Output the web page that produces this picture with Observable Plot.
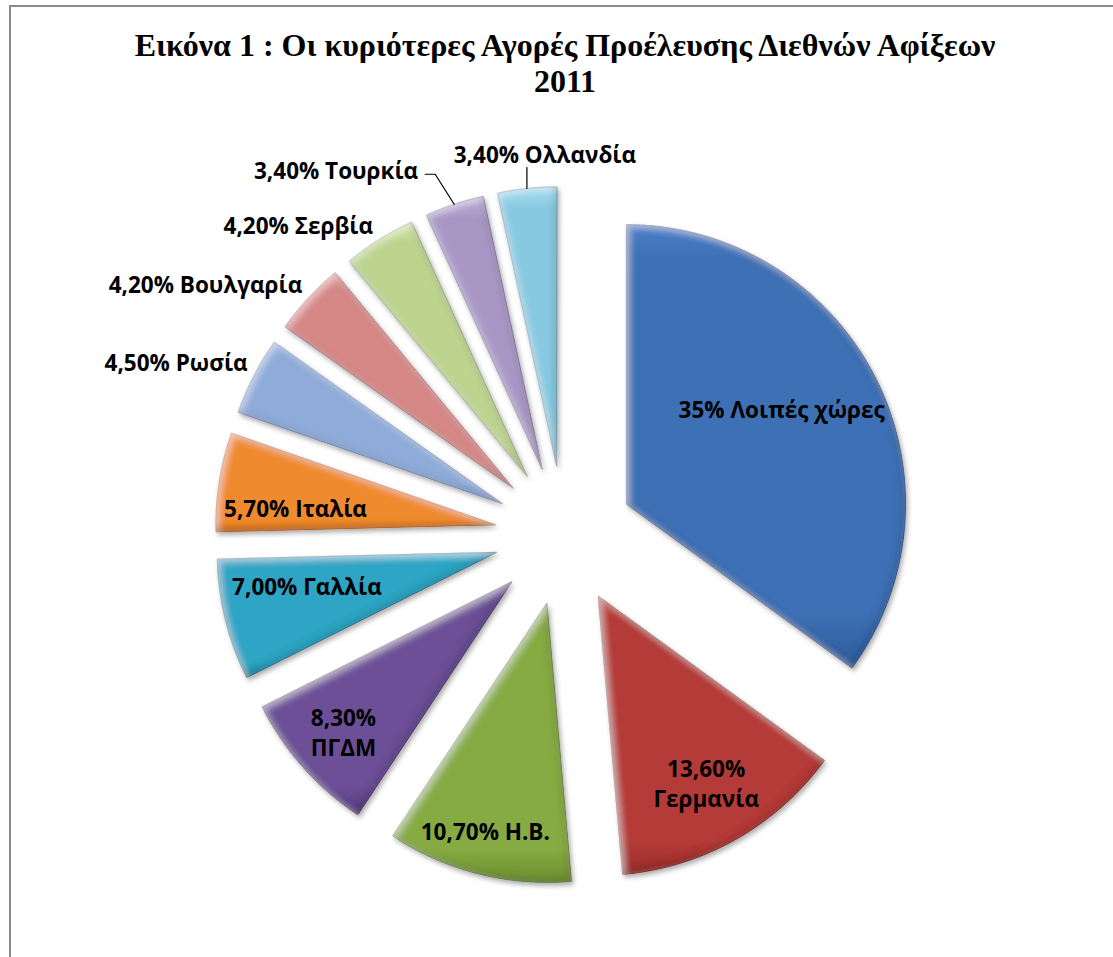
<!DOCTYPE html>
<html><head><meta charset="utf-8">
<script src="https://cdn.jsdelivr.net/npm/d3@7"></script>
<script src="https://cdn.jsdelivr.net/npm/@observablehq/plot@0.6"></script>
<style>
html,body{margin:0;padding:0;background:#fff;overflow:hidden;width:1113px;height:957px}
#frame{position:absolute;left:9px;top:5px;width:1200px;height:1000px;border-left:2px solid #8a8a8a;border-top:2px solid #8a8a8a;box-sizing:border-box}
#title{position:absolute;left:0;top:27px;width:1130px;text-align:center;font-family:"Liberation Serif","Times New Roman",serif;font-weight:bold;font-size:32px;line-height:36px;color:#000}
#chart{position:absolute;left:0;top:110px}
</style></head><body>
<div id="frame"></div>
<div id="title">Εικόνα 1 : Οι κυριότερες Αγορές Προέλευσης Διεθνών Αφίξεων<br>2011</div>
<div id="chart"></div>
<script>
// ---- data ----
const categories = ["Λοιπές χώρες","Γερμανία","Η.Β.","ΠΓΔΜ","Γαλλία","Ιταλία","Ρωσία","Βουλγαρία","Σερβία","Τουρκία","Ολλανδία"];
const shares = [35, 13.6, 10.7, 8.3, 7.0, 5.7, 4.5, 4.2, 4.2, 3.4, 3.4];
const valueLabels = ["35%","13,60%","10,70%","8,30%","7,00%","5,70%","4,50%","4,20%","4,20%","3,40%","3,40%"];

// ---- style ----
const topColors  = ["#4a80c6","#c8504b","#9fc25a","#8366aa","#4cbad6","#f8a657","#a6c0e6","#e4a3a1","#d2e5a9","#c0b1d8","#a9dcee"];
const midColors  = ["#3d6fb4","#b53b37","#86ab42","#6c4f96","#2ea5c4","#ef8b2e","#8eabd9","#d58886","#bdd48f","#a996c5","#86c9e0"];
const botColors  = ["#2f5c9b","#992e2b","#6c8d31","#553a7b","#1f87a3","#d2711b","#7390c3","#bb6c6a","#a0ba72","#8e7aab","#67abc3"];
const strokeColors = ["#2a5287","#862825","#5f7d2a","#4a336b","#1b7690","#b96318","#6880b0","#a55f5d","#8ea465","#7d6b97","#5b97ab"];

// ---- layout ----
const PX = 279;              // pixels per pie radius
const CX = 563.6, CY = 425;  // pie centre inside the svg
const W = 1113, H = 847;
const EXPLODE = 70 / PX;
const FONT = "Open Sans";
const inside = { // radial factor, angle nudge (deg)
  "Λοιπές χώρες": [0.903, -3.3],
  "Γερμανία": [1.021, -0.4],
  "Η.Β.": [1.093, 0.75],
  "ΠΓΔΜ": [1.057, 0],
  "Γαλλία": [0.939, 3],
  "Ιταλία": [0.968, -2.85]
};
const twoLine = new Set(["Γερμανία","ΠΓΔΜ"]);
const outside = new Set(["Ρωσία","Βουλγαρία","Σερβία"]);

const rows = categories.map((c, i) => ({cat: c, share: shares[i], label: valueLabels[i], i}));
const arcs = d3.pie().sort(null).value(d => d.share)(rows);

const slices = arcs.map(a => {
  const mid = (a.startAngle + a.endAngle) / 2;
  const ox = EXPLODE * Math.sin(mid), oy = EXPLODE * Math.cos(mid);
  const n = Math.max(10, Math.ceil((a.endAngle - a.startAngle) / 0.01));
  const pts = [{x: ox, y: oy}];
  for (let k = 0; k <= n; k++) {
    const t = a.startAngle + (a.endAngle - a.startAngle) * k / n;
    pts.push({x: ox + Math.sin(t), y: oy + Math.cos(t)});
  }
  return {...a.data, mid, ox, oy, pts,
    outerX: (EXPLODE + 1) * Math.sin(mid), outerY: (EXPLODE + 1) * Math.cos(mid)};
});

// inside labels
const insideLabels = slices.filter(s => inside[s.cat]).map(s => {
  const [f, nudge] = inside[s.cat];
  const ang = s.mid + nudge * Math.PI / 180;
  return {x: f * Math.sin(ang), y: f * Math.cos(ang),
          text: s.label + (twoLine.has(s.cat) ? "\n" : " ") + s.cat};
});
const outsideLabels = slices.filter(s => outside.has(s.cat)).map(s => ({x: s.outerX, y: s.outerY, text: s.label + " " + s.cat}));

const sT = slices.find(s => s.cat === "Τουρκία");
const sN = slices.find(s => s.cat === "Ολλανδία");
const leaderT = [[0,0],[-19,-30],[-29,-30]].map(([dx,dy]) => ({x: sT.outerX + dx/PX, y: sT.outerY - dy/PX}));
const leaderN = [[0,0],[0,-21]].map(([dx,dy]) => ({x: sN.outerX + dx/PX, y: sN.outerY - dy/PX}));

const textBase = {fontFamily: FONT, fontWeight: "bold", fontSize: 22.5, fill: "#000", lineHeight: 1.35};

const svg = Plot.plot({
  width: W, height: H, margin: 0,
  x: {domain: [-CX / PX, (W - CX) / PX], axis: null},
  y: {domain: [-(H - CY) / PX, CY / PX], axis: null},
  marks: [
    ...slices.map(s => Plot.line(s.pts, {x: "x", y: "y", curve: "linear-closed",
      fill: `url(#grad${s.i})`, stroke: strokeColors[s.i], strokeWidth: 0.8})),
    Plot.line(leaderT, {x: "x", y: "y", stroke: "#000", strokeWidth: 1.2}),
    Plot.line(leaderN, {x: "x", y: "y", stroke: "#000", strokeWidth: 1.2}),
    Plot.text(insideLabels, {x: "x", y: "y", text: "text", ...textBase}),
    Plot.text(outsideLabels, {x: "x", y: "y", text: "text", textAnchor: "end", dx: -6, dy: -15, ...textBase}),
    Plot.text([leaderT[2]], {x: "x", y: "y", text: () => sT.label + " " + sT.cat, textAnchor: "end", dx: -7, dy: -5, ...textBase}),
    Plot.text([leaderN[1]], {x: "x", y: "y", text: () => sN.label + " " + sN.cat, textAnchor: "middle", dx: 18, dy: -14, ...textBase})
  ]
});

const sel = d3.select(svg);
const defs = sel.insert("defs", ":first-child");
const f = defs.append("filter").attr("id", "bevel").attr("x", "-20%").attr("y", "-20%").attr("width", "140%").attr("height", "140%");
// drop shadow
f.append("feGaussianBlur").attr("in", "SourceAlpha").attr("stdDeviation", 2.5).attr("result", "sb");
f.append("feOffset").attr("in", "sb").attr("dx", 2).attr("dy", 3).attr("result", "sbo");
f.append("feFlood").attr("flood-color", "#000").attr("flood-opacity", 0.33).attr("result", "sf");
f.append("feComposite").attr("in", "sf").attr("in2", "sbo").attr("operator", "in").attr("result", "drop");
// inner bevel
f.append("feGaussianBlur").attr("in", "SourceAlpha").attr("stdDeviation", 3.5).attr("result", "b");
f.append("feOffset").attr("in", "b").attr("dx", 3).attr("dy", 3).attr("result", "b1");
f.append("feComposite").attr("in", "SourceAlpha").attr("in2", "b1").attr("operator", "arithmetic")
  .attr("k1", 0).attr("k2", 1).attr("k3", -1).attr("k4", 0).attr("result", "hm");
f.append("feFlood").attr("flood-color", "#fff").attr("flood-opacity", 0.45).attr("result", "hf");
f.append("feComposite").attr("in", "hf").attr("in2", "hm").attr("operator", "in").attr("result", "hl");
f.append("feOffset").attr("in", "b").attr("dx", -3).attr("dy", -3).attr("result", "b2");
f.append("feComposite").attr("in", "SourceAlpha").attr("in2", "b2").attr("operator", "arithmetic")
  .attr("k1", 0).attr("k2", 1).attr("k3", -1).attr("k4", 0).attr("result", "sm");
f.append("feFlood").attr("flood-color", "#000").attr("flood-opacity", 0.3).attr("result", "shf");
f.append("feComposite").attr("in", "shf").attr("in2", "sm").attr("operator", "in").attr("result", "sh");
const m = f.append("feMerge");
["drop", "SourceGraphic", "hl", "sh"].forEach(r => m.append("feMergeNode").attr("in", r));

slices.forEach(s => {
  const g = defs.append("linearGradient").attr("id", `grad${s.i}`).attr("x1", 0).attr("y1", 0).attr("x2", 0).attr("y2", 1);
  g.append("stop").attr("offset", "0%").attr("stop-color", topColors[s.i]);
  g.append("stop").attr("offset", "8%").attr("stop-color", midColors[s.i]);
  g.append("stop").attr("offset", "88%").attr("stop-color", midColors[s.i]);
  g.append("stop").attr("offset", "100%").attr("stop-color", botColors[s.i]);
});
sel.selectAll('g[aria-label="line"]').filter(function() {
  const fl = this.getAttribute("fill"); return fl && fl.startsWith("url(#grad");
}).attr("filter", "url(#bevel)");

document.getElementById("chart").appendChild(svg);
</script>
</body></html>
